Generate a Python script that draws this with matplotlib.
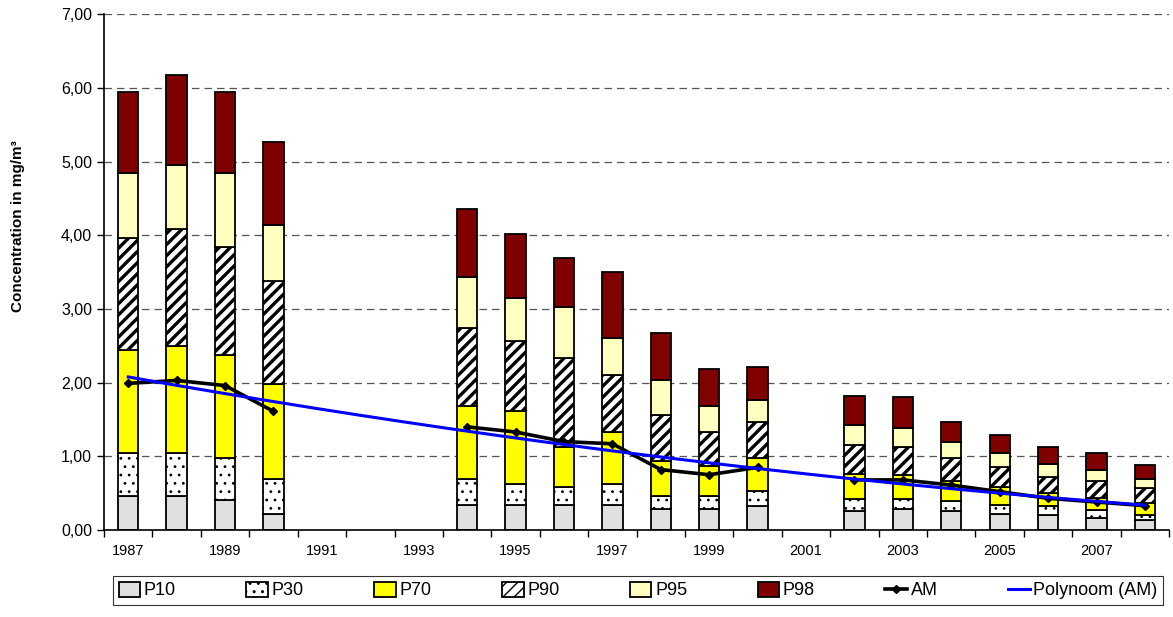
import numpy as np
import matplotlib
matplotlib.use("Agg")
import matplotlib.pyplot as plt
from matplotlib.ticker import FuncFormatter

plt.rcParams["font.family"] = ["Liberation Sans", "DejaVu Sans"]

# jaren (categorie-as)
years = list(range(1987, 2009))

nan = np.nan
# percentielen (cumulatieve niveaus, mg/m3)
p10 = [0.46, 0.46, 0.41, 0.22, nan, nan, nan, 0.34, 0.34, 0.34, 0.34, 0.28, 0.28, 0.32,
       nan, 0.26, 0.28, 0.26, 0.22, 0.21, 0.16, 0.13]
p30 = [1.04, 1.05, 0.98, 0.69, nan, nan, nan, 0.69, 0.63, 0.58, 0.63, 0.46, 0.46, 0.53,
       nan, 0.42, 0.42, 0.39, 0.34, 0.32, 0.27, 0.20]
p70 = [2.44, 2.50, 2.38, 1.98, nan, nan, nan, 1.68, 1.62, 1.13, 1.33, 0.94, 0.87, 0.98,
       nan, 0.76, 0.74, 0.67, 0.58, 0.50, 0.44, 0.37]
p90 = [3.96, 4.08, 3.84, 3.38, nan, nan, nan, 2.74, 2.56, 2.33, 2.10, 1.56, 1.33, 1.46,
       nan, 1.16, 1.13, 0.98, 0.85, 0.72, 0.67, 0.57]
p95 = [4.84, 4.95, 4.84, 4.14, nan, nan, nan, 3.43, 3.15, 3.03, 2.61, 2.03, 1.68, 1.77,
       nan, 1.43, 1.38, 1.19, 1.04, 0.89, 0.82, 0.69]
p98 = [5.94, 6.18, 5.94, 5.26, nan, nan, nan, 4.36, 4.02, 3.69, 3.50, 2.68, 2.18, 2.21,
       nan, 1.82, 1.80, 1.46, 1.29, 1.13, 1.05, 0.88]
# jaargemiddelde
am = [1.99, 2.03, 1.96, 1.61, nan, nan, nan, 1.40, 1.33, 1.20, 1.17, 0.82, 0.75, 0.85,
      nan, 0.68, 0.68, 0.61, 0.52, 0.43, 0.38, 0.33]

labels = ["P10", "P30", "P70", "P90", "P95", "P98"]
levels = [p10, p30, p70, p90, p95, p98]
colors = ["#E0E0E0", "white", "#FFFF00", "white", "#FFFFC0", "#800000"]
hatches = [None, "..", None, "///", None, None]
hatch_lw = [1.0, 0.8, 1.0, 2.4, 1.0, 1.0]

x = np.arange(len(years))

fig = plt.figure(figsize=(11.73, 6.17), dpi=100)
ax = fig.add_axes([0.0887, 0.141, 0.908, 0.836])

# gestapelde staven: elk segment loopt van vorige percentiel tot huidige
prev = np.zeros(len(years))
for lab, lev, col, h, hl in zip(labels, levels, colors, hatches, hatch_lw):
    plt.rcParams["hatch.linewidth"] = hl
    lev = np.array(lev, dtype=float)
    ax.bar(x, lev - prev, bottom=prev, width=0.42, color=col, edgecolor="black",
           linewidth=1.3, hatch=h, label=lab, zorder=2)
    prev = lev

am_arr = np.array(am, dtype=float)
ax.plot(x, am_arr, color="black", lw=2.6, marker="D", markersize=4,
        label="AM", zorder=4)

# polynoom trendlijn (2e graad) door AM
ok = ~np.isnan(am_arr)
coef = np.polyfit(x[ok] + 1, am_arr[ok], 2)
xt = np.linspace(0, len(years) - 1, 200)
ax.plot(xt, np.polyval(coef, xt + 1), color="#0000FF", lw=2.2,
        label="Polynoom (AM)", zorder=5)

ax.set_xlim(-0.5, len(years) - 0.5)
ax.set_ylim(0, 7)
ax.set_yticks(np.arange(0, 7.01, 1))
ax.yaxis.set_major_formatter(FuncFormatter(lambda v, p: f"{v:.2f}".replace(".", ",")))
ax.grid(axis="y", linestyle=(0, (6, 4)), color="#555555", lw=0.9, zorder=0)

ax.set_xticks(x[::2])
ax.set_xticklabels([str(y) for y in years[::2]])
ax.set_xticks(np.arange(-0.5, len(years), 1), minor=True)
ax.tick_params(axis="x", which="major", length=0, pad=10, labelsize=10.5)
ax.tick_params(axis="x", which="minor", length=5, width=1, direction="out")
ax.tick_params(axis="y", length=5, width=1, labelsize=11.5)

for s in ["top", "right"]:
    ax.spines[s].set_visible(False)
ax.spines["left"].set_linewidth(1.2)
ax.spines["bottom"].set_linewidth(1.2)

ax.set_ylabel("Concentration in mg/m³", fontsize=11, fontweight="bold")
ax.yaxis.set_label_coords(-0.074, 0.59)

# legenda: eerst de percentielen, dan AM en trendlijn
handles, labs = ax.get_legend_handles_labels()
order = [labs.index(n) for n in labels + ["AM", "Polynoom (AM)"]]
leg = fig.legend([handles[i] for i in order], [labs[i] for i in order],
                 loc="lower center", bbox_to_anchor=(0.544, 0.005), ncol=8,
                 frameon=True, fancybox=False, edgecolor="black", fontsize=13,
                 handlelength=1.2, handleheight=0.9, handletextpad=0.2,
                 columnspacing=3.9, borderpad=0.3)
leg.get_frame().set_linewidth(0.8)

fig.savefig("out.png", dpi=100)
